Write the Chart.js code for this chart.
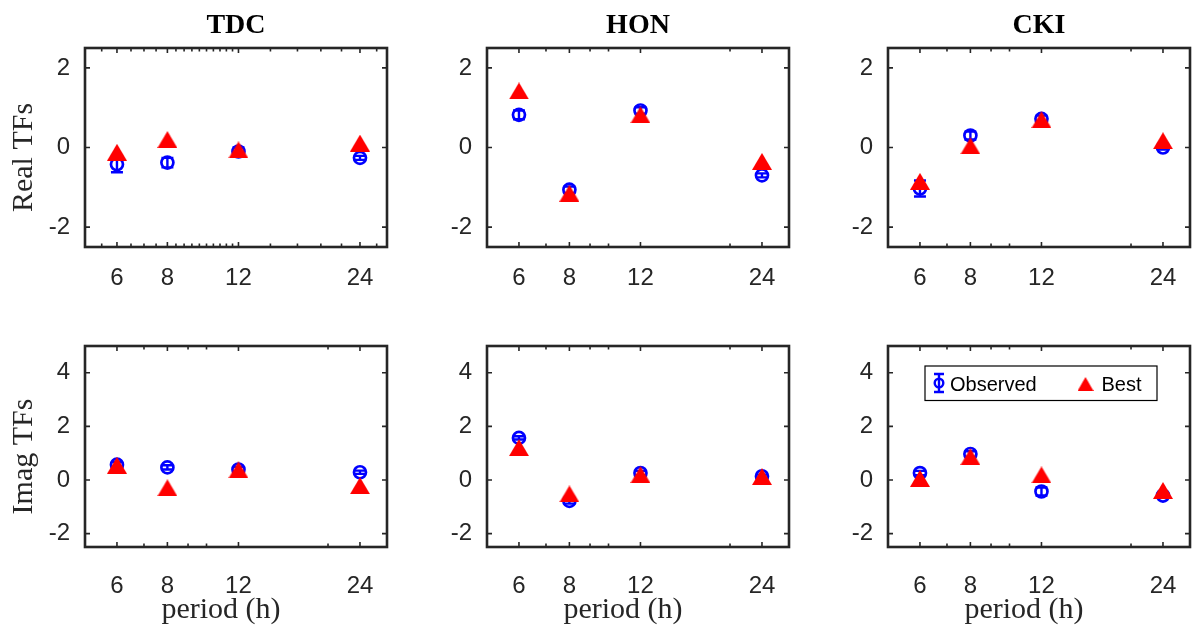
<!DOCTYPE html>
<html>
<head>
<meta charset="utf-8">
<script src="https://cdn.jsdelivr.net/npm/chart.js@4.4.1/dist/chart.umd.min.js"></script>
<style>
  html, body { margin: 0; padding: 0; background: #fff; overflow: hidden; }
  #fig { position: relative; width: 1192px; height: 631px; overflow: hidden; background: #fff; }
  #fig canvas { position: absolute; }
</style>
</head>
<body>
<div id="fig"></div>
<script>
// ---- data ----
const periods = [6, 8, 12, 24];
const periodLabels = ['6', '8', '12', '24'];
const minorPeriods = [7, 9, 10, 20];
const minorPeriodsTdcReal = [5.5, 6.5, 7, 7.5, 8.4, 8.8, 9.2, 9.6, 10, 10.4, 10.8, 11.2, 11.6, 14.4, 16.8, 19.2, 21.6, 26.4];
const stations = ['TDC', 'HON', 'CKI'];
const rowLabels = ['Real TFs', 'Imag TFs'];
const xAxisLabel = 'period (h)';
const seriesNames = ['Observed', 'Best'];
const realTicks = [-2, 0, 2];
const imagTicks = [-2, 0, 2, 4];

const tdcRealObs  = [-0.42, -0.38, -0.10, -0.26];
const tdcRealErr  = [0.20, 0.12, 0.10, 0.05];
const tdcRealBest = [-0.12, 0.20, -0.06, 0.11];

const honRealObs  = [0.82, -1.06, 0.93, -0.70];
const honRealErr  = [0.11, 0.08, 0.08, 0.05];
const honRealBest = [1.42, -1.15, 0.82, -0.35];

const ckiRealObs  = [-1.03, 0.30, 0.72, 0.00];
const ckiRealErr  = [0.20, 0.10, 0.08, 0.05];
const ckiRealBest = [-0.85, 0.04, 0.70, 0.17];

const tdcImagObs  = [0.57, 0.47, 0.39, 0.29];
const tdcImagErr  = [0.10, 0.08, 0.10, 0.06];
const tdcImagBest = [0.55, -0.29, 0.38, -0.21];

const honImagObs  = [1.57, -0.78, 0.26, 0.14];
const honImagErr  = [0.06, 0.10, 0.08, 0.06];
const honImagBest = [1.21, -0.52, 0.20, 0.13];

const ckiImagObs  = [0.26, 0.97, -0.43, -0.58];
const ckiImagErr  = [0.08, 0.10, 0.15, 0.08];
const ckiImagBest = [0.06, 0.87, 0.19, -0.39];

// ---- styling ----
const AXIS_COLOR = '#262626';
const OBS_COLOR = '#0000ff';
const BEST_COLOR = '#ff0000';
const SANS = "'Liberation Sans', Arial, Helvetica, sans-serif";
const SERIF = "'Liberation Serif', 'Times New Roman', serif";

function triangleImage(w, h, color) {
  const c = document.createElement('canvas');
  c.width = w; c.height = h;
  const g = c.getContext('2d');
  g.fillStyle = color;
  g.beginPath();
  g.moveTo(w / 2, 0);
  g.lineTo(w, h);
  g.lineTo(0, h);
  g.closePath();
  g.fill();
  return c;
}
const triMarker = triangleImage(20, 17, BEST_COLOR);
const triLegend = triangleImage(16, 14, BEST_COLOR);

// box outline with inward tick marks on all four sides
const framePlugin = {
  id: 'frame',
  beforeDatasetsDraw(chart) {
    const { ctx, chartArea: a, scales: { x, y } } = chart;
    ctx.save();
    ctx.strokeStyle = AXIS_COLOR;
    ctx.lineWidth = 1.6;
    ctx.beginPath();
    x.ticks.forEach(t => {
      const px = x.getPixelForValue(t.value);
      const len = periods.includes(t.value) ? 5 : 3.5;
      ctx.moveTo(px, a.bottom); ctx.lineTo(px, a.bottom - len);
      ctx.moveTo(px, a.top); ctx.lineTo(px, a.top + len);
    });
    y.ticks.forEach(t => {
      const py = y.getPixelForValue(t.value);
      ctx.moveTo(a.left, py); ctx.lineTo(a.left + 5, py);
      ctx.moveTo(a.right, py); ctx.lineTo(a.right - 5, py);
    });
    ctx.stroke();
    ctx.lineWidth = 2.6;
    ctx.strokeRect(a.left, a.top, a.right - a.left, a.bottom - a.top);
    ctx.restore();
  }
};

// vertical error bars with caps for datasets carrying an `errors` array
const errorBarPlugin = {
  id: 'errorBars',
  beforeDatasetsDraw(chart) {
    const { ctx, scales: { x, y } } = chart;
    chart.data.datasets.forEach(ds => {
      if (!ds.errors) return;
      ctx.save();
      ctx.strokeStyle = ds.borderColor;
      ctx.lineWidth = 2.4;
      ctx.beginPath();
      ds.data.forEach((pt, i) => {
        const px = x.getPixelForValue(pt.x);
        const lo = y.getPixelForValue(pt.y - ds.errors[i]);
        const hi = y.getPixelForValue(pt.y + ds.errors[i]);
        ctx.moveTo(px, lo); ctx.lineTo(px, hi);
        ctx.moveTo(px - 6, lo); ctx.lineTo(px + 6, lo);
        ctx.moveTo(px - 6, hi); ctx.lineTo(px + 6, hi);
      });
      ctx.stroke();
      ctx.restore();
    });
  }
};

// panel title, axis labels and the boxed legend
const panelTextPlugin = {
  id: 'panelText',
  afterDraw(chart, args, opts) {
    const { ctx, chartArea: a } = chart;
    const cx = (a.left + a.right) / 2;
    const cy = (a.top + a.bottom) / 2;
    ctx.save();
    if (opts.title) {
      ctx.font = 'bold 28px ' + SERIF;
      ctx.fillStyle = '#000';
      ctx.textAlign = 'center';
      ctx.textBaseline = 'middle';
      ctx.fillText(opts.title, cx, a.top - 22.5);
    }
    if (opts.ylabel) {
      ctx.save();
      ctx.translate(a.left - 53, cy + 10);
      ctx.rotate(-Math.PI / 2);
      ctx.font = '30px ' + SERIF;
      ctx.fillStyle = AXIS_COLOR;
      ctx.textAlign = 'center';
      ctx.textBaseline = 'alphabetic';
      ctx.fillText(opts.ylabel, 0, 0);
      ctx.restore();
    }
    if (opts.xlabel) {
      ctx.font = '30px ' + SERIF;
      ctx.fillStyle = AXIS_COLOR;
      ctx.textAlign = 'center';
      ctx.textBaseline = 'alphabetic';
      ctx.fillText(opts.xlabel, cx - 15, a.bottom + 70.5);
    }
    if (opts.legend) {
      const bx = a.left + 37, by = a.top + 20, bw = 232, bh = 34.5;
      ctx.fillStyle = '#fff';
      ctx.fillRect(bx, by, bw, bh);
      ctx.strokeStyle = '#000';
      ctx.lineWidth = 1.2;
      ctx.strokeRect(bx, by, bw, bh);
      const [obsDs, bestDs] = chart.data.datasets;
      // errorbar glyph
      const mx = bx + 14, my = by + 17;
      ctx.strokeStyle = OBS_COLOR;
      ctx.lineWidth = 2.4;
      ctx.beginPath();
      ctx.moveTo(mx, my - 9); ctx.lineTo(mx, my + 9);
      ctx.moveTo(mx - 5, my - 9); ctx.lineTo(mx + 5, my - 9);
      ctx.moveTo(mx - 5, my + 9); ctx.lineTo(mx + 5, my + 9);
      ctx.stroke();
      ctx.beginPath();
      ctx.arc(mx, my, 4.3, 0, Math.PI * 2);
      ctx.stroke();
      ctx.drawImage(triLegend, bx + 160.5 - triLegend.width / 2, by + 18 - triLegend.height / 2);
      ctx.font = '20px ' + SANS;
      ctx.fillStyle = '#000';
      ctx.textAlign = 'left';
      ctx.textBaseline = 'alphabetic';
      ctx.fillText(obsDs.label, bx + 25, by + 25);
      ctx.fillText(bestDs.label, bx + 176.5, by + 25);
    }
    ctx.restore();
  }
};

const fig = document.getElementById('fig');
const canvasLeft = [0, 402, 803];
const canvasTop = [0, 300];
const canvasHeight = [300, 331];
const areaTopPad = [48, 46];
const xAxisHeight = [53, 84];
const xTickPad = [17, 24.5];

function makePanel(row, col, obs, err, best, minor) {
  const canvas = document.createElement('canvas');
  canvas.width = 400;
  canvas.height = canvasHeight[row];
  canvas.style.left = canvasLeft[col] + 'px';
  canvas.style.top = canvasTop[row] + 'px';
  canvas.style.width = '400px';
  canvas.style.height = canvasHeight[row] + 'px';
  fig.appendChild(canvas);

  const xTickValues = periods.concat(minor).sort((p, q) => p - q);
  const yTickValues = row === 0 ? realTicks : imagTicks;

  new Chart(canvas, {
    type: 'scatter',
    data: {
      datasets: [
        {
          label: seriesNames[0],
          data: periods.map((p, i) => ({ x: p, y: obs[i] })),
          errors: err,
          order: 1,
          pointStyle: 'circle',
          pointRadius: 6,
          pointBorderWidth: 2.7,
          borderColor: OBS_COLOR,
          pointBorderColor: OBS_COLOR,
          backgroundColor: 'rgba(0,0,0,0)',
          pointBackgroundColor: 'rgba(0,0,0,0)'
        },
        {
          label: seriesNames[1],
          data: periods.map((p, i) => ({ x: p, y: best[i] })),
          order: 0,
          pointStyle: triMarker,
          pointRadius: 8,
          borderColor: BEST_COLOR,
          backgroundColor: BEST_COLOR
        }
      ]
    },
    options: {
      responsive: false,
      animation: false,
      devicePixelRatio: 1,
      events: [],
      clip: false,
      layout: { padding: { left: 0, right: 13, top: areaTopPad[row], bottom: 0 } },
      plugins: {
        legend: { display: false },
        tooltip: { enabled: false },
        title: { display: false },
        panelText: {
          title: row === 0 ? stations[col] : null,
          ylabel: col === 0 ? rowLabels[row] : null,
          xlabel: row === 1 ? xAxisLabel : null,
          legend: row === 1 && col === 2
        }
      },
      scales: {
        x: {
          type: 'logarithmic',
          position: 'bottom',
          min: 5,
          max: 28,
          afterBuildTicks: s => { s.ticks = xTickValues.map(v => ({ value: v, major: periods.includes(v) })); },
          afterFit: s => { s.height = xAxisHeight[row]; },
          grid: { display: false, drawTicks: false },
          border: { display: false },
          ticks: {
            autoSkip: false,
            maxRotation: 0,
            minRotation: 0,
            padding: xTickPad[row],
            color: AXIS_COLOR,
            font: { family: SANS, size: 24 },
            callback: v => {
              const k = periods.indexOf(v);
              return k >= 0 ? periodLabels[k] : '';
            }
          }
        },
        y: {
          type: 'linear',
          position: 'left',
          min: -2.5,
          max: row === 0 ? 2.5 : 5,
          afterBuildTicks: s => { s.ticks = yTickValues.map(v => ({ value: v })); },
          afterFit: s => { s.width = 85; },
          grid: { display: false, drawTicks: false },
          border: { display: false },
          ticks: {
            padding: 15,
            color: AXIS_COLOR,
            font: { family: SANS, size: 24 },
            callback: v => String(v)
          }
        }
      }
    },
    plugins: [framePlugin, errorBarPlugin, panelTextPlugin]
  });
}

makePanel(0, 0, tdcRealObs, tdcRealErr, tdcRealBest, minorPeriodsTdcReal);
makePanel(0, 1, honRealObs, honRealErr, honRealBest, minorPeriods);
makePanel(0, 2, ckiRealObs, ckiRealErr, ckiRealBest, minorPeriods);
makePanel(1, 0, tdcImagObs, tdcImagErr, tdcImagBest, minorPeriods);
makePanel(1, 1, honImagObs, honImagErr, honImagBest, minorPeriods);
makePanel(1, 2, ckiImagObs, ckiImagErr, ckiImagBest, minorPeriods);
</script>
</body>
</html>
